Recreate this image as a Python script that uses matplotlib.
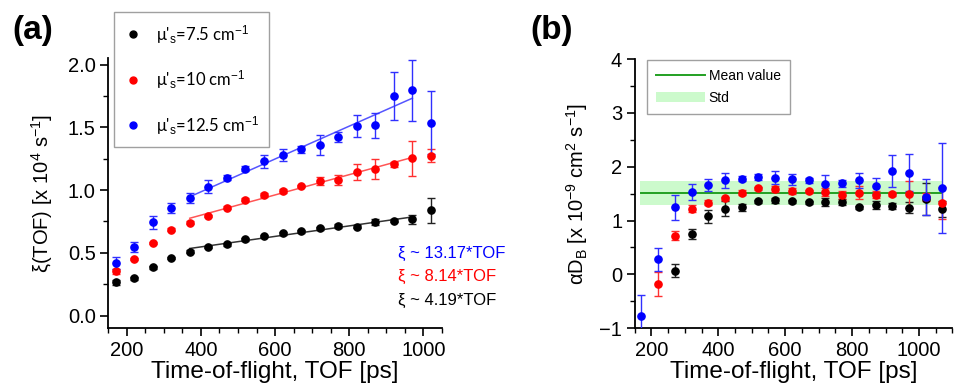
import numpy as np
import matplotlib
matplotlib.use("Agg")
import matplotlib.pyplot as plt
from matplotlib.lines import Line2D
from matplotlib.patches import Patch
from matplotlib.ticker import MultipleLocator

plt.rcParams['font.family'] = ['Liberation Sans', 'DejaVu Sans']
plt.rcParams['mathtext.fontset'] = 'custom'
plt.rcParams['mathtext.rm'] = 'Liberation Sans'
plt.rcParams['mathtext.it'] = 'Liberation Sans:italic'
plt.rcParams['mathtext.bf'] = 'Liberation Sans:bold'

# ---------------- data: panel (a) ----------------
tof_a = [170, 220, 270, 320, 370, 420, 470, 520, 570, 620, 670, 720, 770, 820, 870, 920, 970, 1020]
xi_black = [0.266, 0.297, 0.385, 0.457, 0.51, 0.547, 0.568, 0.608, 0.635, 0.656, 0.672, 0.696, 0.714, 0.709, 0.746, 0.757, 0.768, 0.839]
xi_black_err = [0.02, 0.01, 0.01, 0.01, 0.01, 0.01, 0.01, 0.01, 0.01, 0.01, 0.01, 0.01, 0.015, 0.01, 0.025, 0.015, 0.035, 0.1]
xi_red = [0.353, 0.452, 0.579, 0.685, 0.741, 0.794, 0.861, 0.924, 0.964, 0.991, 1.033, 1.073, 1.084, 1.145, 1.166, 1.208, 1.254, 1.275]
xi_red_err = [0.02, 0.01, 0.01, 0.01, 0.01, 0.01, 0.01, 0.01, 0.015, 0.015, 0.01, 0.03, 0.04, 0.065, 0.08, 0.02, 0.14, 0.05]
xi_blue = [0.42, 0.55, 0.744, 0.855, 0.938, 1.028, 1.097, 1.169, 1.23, 1.28, 1.325, 1.36, 1.421, 1.511, 1.517, 1.748, 1.796, 1.538]
xi_blue_err = [0.05, 0.04, 0.05, 0.04, 0.04, 0.05, 0.02, 0.02, 0.05, 0.045, 0.03, 0.08, 0.04, 0.09, 0.1, 0.19, 0.245, 0.25]
fit_range = (370, 970)
# order: black, red, blue
fit_labels = ["ξ ~ 4.19*TOF", "ξ ~ 8.14*TOF", "ξ ~ 13.17*TOF"]
legend_a = [r"μ'$_\mathrm{s}$=7.5 cm$^{\mathrm{-1}}$", r"μ'$_\mathrm{s}$=10 cm$^{\mathrm{-1}}$",
            r"μ'$_\mathrm{s}$=12.5 cm$^{\mathrm{-1}}$"]

# ---------------- data: panel (b) ----------------
tof_b = [170, 220, 270, 320, 370, 420, 470, 520, 570, 620, 670, 720, 770, 820, 870, 920, 970, 1020, 1070]
d_blue = [-0.77, 0.28, 1.245, 1.53, 1.66, 1.75, 1.78, 1.81, 1.80, 1.77, 1.75, 1.68, 1.69, 1.75, 1.65, 1.92, 1.89, 1.44, 1.61]
d_blue_err = [0.38, 0.21, 0.23, 0.15, 0.12, 0.14, 0.05, 0.05, 0.12, 0.1, 0.05, 0.16, 0.06, 0.14, 0.15, 0.29, 0.35, 0.33, 0.84]
d_red = [np.nan, -0.18, 0.72, 1.22, 1.33, 1.41, 1.52, 1.60, 1.585, 1.55, 1.54, 1.53, 1.47, 1.52, 1.48, 1.49, 1.49, 1.44, 1.33]
d_red_err = [0, 0.23, 0.08, 0.06, 0.05, 0.03, 0.04, 0.03, 0.06, 0.05, 0.03, 0.07, 0.07, 0.12, 0.06, 0.04, 0.25, 0.08, 0.3]
d_black = [np.nan, np.nan, 0.07, 0.75, 1.08, 1.22, 1.245, 1.355, 1.375, 1.36, 1.34, 1.345, 1.34, 1.245, 1.29, 1.27, 1.24, 1.40, 1.22]
d_black_err = [0, 0, 0.12, 0.09, 0.12, 0.14, 0.07, 0.03, 0.05, 0.03, 0.03, 0.08, 0.06, 0.03, 0.07, 0.06, 0.1, 0.3, 0.15]
mean_value = 1.51
std_value = 0.22

colors = ['black', 'red', 'blue']
err_colors = ['#222222', '#ff3030', '#3030ff']
fit_colors = ['#333333', '#ff5555', '#5555ff']

fig = plt.figure(figsize=(9.66, 3.92), dpi=100)
axa = fig.add_axes([0.112, 0.163, 0.3456, 0.688])
axb = fig.add_axes([0.657, 0.163, 0.329, 0.686])


def style(ax):
    for s in ['top', 'right']:
        ax.spines[s].set_visible(False)
    for s in ['left', 'bottom']:
        ax.spines[s].set_linewidth(1.3)
    ax.tick_params(which='major', direction='out', length=6, width=1.2, labelsize=14.5, pad=3)
    ax.tick_params(which='minor', direction='out', length=3.5, width=1.0)


# ---- panel (a)
style(axa)
series_a = [(xi_black, xi_black_err), (xi_red, xi_red_err), (xi_blue, xi_blue_err)]
tof_a_arr = np.array(tof_a, dtype=float)
handles = []
for (vals, errs), c, ec, fc, lab in zip(series_a, colors, err_colors, fit_colors, legend_a):
    axa.errorbar(tof_a, vals, yerr=errs, fmt='o', color=c, ecolor=ec, ms=5.2,
                 elinewidth=1.0, capsize=2.8, capthick=1.0, zorder=3)
    m = (tof_a_arr >= fit_range[0]) & (tof_a_arr <= fit_range[1])
    p = np.polyfit(tof_a_arr[m], np.array(vals)[m], 1)
    xx = np.array(fit_range, dtype=float)
    axa.plot(xx, np.polyval(p, xx), color=fc, lw=1.1, zorder=2)
    handles.append(Line2D([], [], ls='none', marker='o', color=c, ms=5, label=lab))

axa.set_xlim(150, 1050)
axa.set_ylim(-0.1, 2.05)
axa.xaxis.set_major_locator(MultipleLocator(200))
axa.xaxis.set_minor_locator(MultipleLocator(50))
axa.yaxis.set_major_locator(MultipleLocator(0.5))
axa.yaxis.set_minor_locator(MultipleLocator(0.25))
axa.set_yticks([0, 0.5, 1.0, 1.5, 2.0])
axa.set_yticklabels(['0.0', '0.5', '1.0', '1.5', '2.0'])
axa.set_xlabel('Time-of-flight, TOF [ps]', fontsize=17.5, labelpad=1)
axa.set_ylabel(r'ξ(TOF) [x 10$^{\mathrm{4}}$ s$^{\mathrm{-1}}$]', fontsize=14.5, labelpad=9)

leg = axa.legend(handles=handles, loc='upper left', bbox_to_anchor=(114 / 966, 1 - 12 / 392),
                 bbox_transform=fig.transFigure, fontsize=12, frameon=True, fancybox=False,
                 edgecolor='#888888', borderpad=0.65, labelspacing=1.35, handlelength=1.0,
                 handletextpad=0.85, borderaxespad=0)
leg.get_frame().set_linewidth(1.0)
for t in leg.get_texts():
    t.set_family(['Lato', 'DejaVu Sans'])

for i, (lab, c) in enumerate(zip(fit_labels[::-1], colors[::-1])):
    fig.text(398 / 966, 1 - (253 + 23.5 * i) / 392, lab, color=c, fontsize=12,
             ha='left', va='center')

# ---- panel (b)
style(axb)
axb.axhspan(mean_value - std_value, mean_value + std_value, xmin=(165 - 150) / 950,
            xmax=(1070 - 150) / 950, color='#ccfacc', lw=0, zorder=0)
axb.plot([tof_b[0], tof_b[-1]], [mean_value, mean_value], color='#22a022', lw=1.4, zorder=1)
series_b = [(d_black, d_black_err), (d_red, d_red_err), (d_blue, d_blue_err)]
for (vals, errs), c, ec in zip(series_b, colors, err_colors):
    axb.errorbar(tof_b, vals, yerr=errs, fmt='o', color=c, ecolor=ec, ms=5.2,
                 elinewidth=1.0, capsize=2.8, capthick=1.0, zorder=3)
axb.set_xlim(150, 1100)
axb.set_ylim(-1, 4)
axb.xaxis.set_major_locator(MultipleLocator(200))
axb.xaxis.set_minor_locator(MultipleLocator(50))
axb.yaxis.set_major_locator(MultipleLocator(1))
axb.yaxis.set_minor_locator(MultipleLocator(0.5))
axb.set_xlabel('Time-of-flight, TOF [ps]', fontsize=17.5, labelpad=1)
axb.set_ylabel(r'αD$_{\mathrm{B}}$ [x 10$^{\mathrm{-9}}$ cm$^{\mathrm{2}}$ s$^{\mathrm{-1}}$]',
               fontsize=14.5, labelpad=7)
hb = [Line2D([], [], color='#22a022', lw=1.4, label='Mean value'),
      Patch(facecolor='#ccfacc', edgecolor='none', label='Std')]
legb = axb.legend(handles=hb, loc='upper left', bbox_to_anchor=(647 / 966, 1 - 60 / 392),
                  bbox_transform=fig.transFigure, fontsize=10, frameon=True, fancybox=False,
                  edgecolor='#888888', borderpad=0.65, labelspacing=0.55, handlelength=3.5,
                  handletextpad=0.3, borderaxespad=0)
legb.get_frame().set_linewidth(1.0)

fig.text(12 / 966, 1 - 30 / 392, '(a)', fontsize=24, fontweight='bold', ha='left', va='center')
fig.text(530 / 966, 1 - 30 / 392, '(b)', fontsize=24, fontweight='bold', ha='left', va='center')

fig.savefig('out.png', dpi=100)
